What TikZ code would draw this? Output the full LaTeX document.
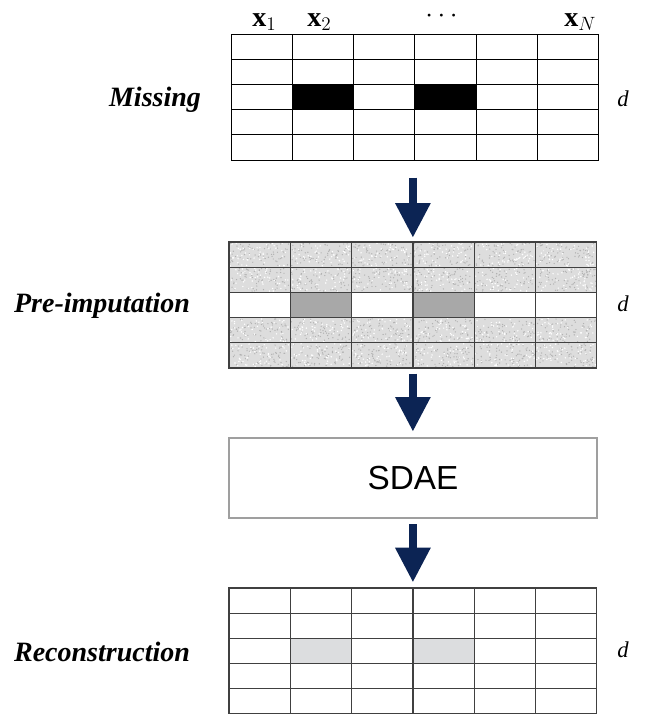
\documentclass[tikz,border=0pt]{standalone}
\usepackage{fontspec}
\setmainfont{Liberation Serif}
\setsansfont{Liberation Sans}
\usetikzlibrary{arrows.meta, positioning, fit}

\definecolor{navyarrow}{RGB}{12,36,84}
\definecolor{imputed}{RGB}{168,168,168}
\definecolor{recon}{RGB}{220,221,223}

\begin{document}
\begin{tikzpicture}[
    x=0.75pt, y=-0.75pt,
    cell/.style={draw=black, line width=0.75pt},
    speckcell/.style={draw=black!75, line width=0.9pt},
    stage/.style={font=\bfseries\itshape\fontsize{21}{25}\selectfont},
    colname/.style={anchor=base west, inner sep=0pt, font=\fontsize{21}{25}\selectfont},
    dimname/.style={font=\itshape\fontsize{17}{20}\selectfont},
    sdaebox/.style={rectangle, draw=gray!75, line width=1.5pt, fill=white, minimum width=276pt, minimum height=60pt, font=\sffamily\fontsize{25}{30}\selectfont},
    bigarrow/.style={-{Triangle[width=25pt, length=26pt]}, line width=6pt, navyarrow},
    grid/.style={inner sep=0pt}
]
\useasboundingbox (0,0) rectangle (644,714);

% Missing grid
\fill[black] (292.3,84.4) rectangle +(61.3,25.2);
\fill[black] (414.9,84.4) rectangle +(61.3,25.2);
\foreach \c in {0,...,5}
  \foreach \r in {0,...,4}
    \draw[cell] ({231+61.3*\c},{34+25.2*\r}) rectangle +(61.3,25.2);
\coordinate (m-nw) at (231,34);
\coordinate (m-se) at (598.8,160);
\node[grid, fit=(m-nw)(m-se)] (miss) {};

% Pre-imputation grid (speckled cells)
\pgfmathsetseed{11}
\foreach \c in {0,...,5}
  \foreach \r in {0,1,3,4} {
    \fill[gray!27] ({229+61.3*\c},{242+25.2*\r}) rectangle +(61.3,25.2);
    \foreach \k in {1,...,70}
      \fill[gray!60] ({229+61.3*\c+1+59*rnd},{242+25.2*\r+1+23*rnd}) circle (0.7);
    \foreach \k in {1,...,45}
      \fill[white] ({229+61.3*\c+1+59*rnd},{242+25.2*\r+1+23*rnd}) circle (0.8);
  }
\fill[imputed] (290.3,292.4) rectangle +(61.3,25.2);
\fill[imputed] (412.9,292.4) rectangle +(61.3,25.2);
\foreach \c in {0,...,5}
  \foreach \r in {0,...,4}
    \draw[speckcell] ({229+61.3*\c},{242+25.2*\r}) rectangle +(61.3,25.2);
\coordinate (p-nw) at (229,242);
\coordinate (p-se) at (596.8,368);
\node[grid, fit=(p-nw)(p-se)] (pre) {};

% SDAE block
\node[sdaebox] (sdae) at (412.9,478) {SDAE};

% Reconstruction grid
\fill[recon] (290.3,638.4) rectangle +(61.3,25.2);
\fill[recon] (412.9,638.4) rectangle +(61.3,25.2);
\foreach \c in {0,...,5}
  \foreach \r in {0,...,4}
    \draw[speckcell] ({229+61.3*\c},{588+25.2*\r}) rectangle +(61.3,25.2);
\coordinate (r-nw) at (229,588);
\coordinate (r-se) at (596.8,714);
\node[grid, fit=(r-nw)(r-se)] (rec) {};

% Arrows between stages
\draw[bigarrow, shorten <=13pt, shorten >=3pt] (pre.north |- miss.south) -- (pre.north);
\draw[bigarrow, shorten <=4pt, shorten >=4pt] (pre.south) -- (sdae.north);
\draw[bigarrow, shorten <=4pt, shorten >=4pt] (sdae.south) -- (rec.north);

% Column labels
\node[colname] (x1) at (252,26) {$\mathbf{x}_1$};
\node[colname] (x2) at (307,26) {$\mathbf{x}_2$};
\node[colname] (xdots) at (425,22) {\smash{$\cdots$}};
\node[colname] (xN) at (564,26) {$\mathbf{x}_N$};

% Stage labels
\node[stage] (lmiss) at (155,100) {Missing};
\node[stage] (lpre) at (102,306) {Pre-imputation};
\node[stage] (lrec) at (102,652) {Reconstruction};

% Dimension labels
\node[dimname] (d1) at (623,99) {d};
\node[dimname] (d2) at (623,304) {d};
\node[dimname] (d3) at (623,650) {d};

\end{tikzpicture}
\end{document}
